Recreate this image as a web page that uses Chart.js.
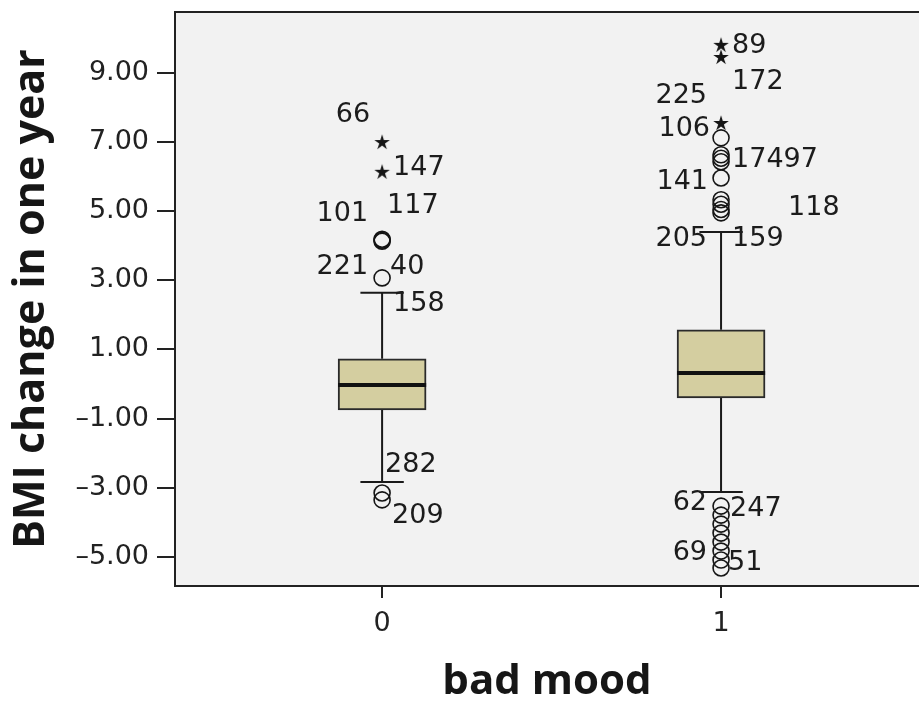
<!DOCTYPE html>
<html>
<head>
<meta charset="UTF-8">
<title>BMI change in one year by bad mood</title>
<script src="https://cdn.jsdelivr.net/npm/chart.js"></script>
<style>
  * {padding: 0; margin: 0;}
  body {background: #fff;}
  #wrap {width: 919px; height: 703px;}
</style>
</head>
<body>
<div id="wrap"><canvas id="myChart"></canvas></div>
<script>
// x categories and axis ticks
const groups = [0, 1];
const xTicks = [0, 1];
const yTicks = [-5, -3, -1, 1, 3, 5, 7, 9];

// box summaries per group
const q1 = [-0.75, -0.40];
const medians = [-0.03, 0.32];
const q3 = [0.73, 1.57];
const whiskerLow = [-2.83, -3.12];
const whiskerHigh = [2.64, 4.40];

// outliers (circles) and extremes (stars)
const outliers0 = [4.19, 4.16, 4.13, 3.07, -3.15, -3.35];
const outliers1 = [7.12, 6.63, 6.53, 6.43, 5.96, 5.33, 5.20, 5.05, 4.95,
  -3.53, -3.79, -4.05, -4.31, -4.57, -4.83, -5.09, -5.32];
const extremes0 = [7.0, 6.14];
const extremes1 = [9.81, 9.46, 7.55];

// case numbers written next to points
const labelText = ['66', '147', '101', '117', '221', '40', '158', '282', '209',
  '89', '172', '225', '106', '17497', '141', '118', '205', '159', '62', '247', '69', '51'];
const labelGroup = [0, 0, 0, 0, 0, 0, 0, 0, 0,
  1, 1, 1, 1, 1, 1, 1, 1, 1, 1, 1, 1, 1];
const labelValue = [7.0, 6.14, 4.16, 4.16, 3.07, 3.07, 2.64, -2.83, -3.35,
  9.81, 9.46, 7.55, 7.55, 6.43, 5.96, 5.20, 4.40, 4.40, -3.12, -3.53, -5.32, -5.32];
// pixel offsets of the labels from their point [dx, dy, align]
const labelOffsets = [[-12, -27, 'right'], [11, -4, 'left'], [-14, -26, 'right'], [5, -34, 'left'],
  [-14, -11, 'right'], [8, -11, 'left'], [11, 11, 'left'], [3, -17, 'left'], [10, 16, 'left'],
  [11, 1, 'left'], [11, 25, 'left'], [-14, -27, 'right'], [-11, 6, 'right'], [11, -2, 'left'],
  [-13, 4, 'right'], [67, 4, 'left'], [-14, 7, 'right'], [11, 7, 'left'], [-14, 11, 'right'],
  [9, 3, 'left'], [-14, -15, 'right'], [7, -5, 'left']];

const boxHalf = 0.13;
const capHalf = 0.064;

// line pieces separated by gaps
function segs(list) {
  const out = [];
  list.forEach(function(p) {
    out.push({x: p[0], y: p[1]}, {x: p[2], y: p[3]}, {x: p[2], y: null});
  });
  return out;
}

const whiskerPieces = [];
const medianPieces = [];
groups.forEach(function(g, i) {
  whiskerPieces.push([g, q3[i], g, whiskerHigh[i]]);
  whiskerPieces.push([g - capHalf, whiskerHigh[i], g + capHalf, whiskerHigh[i]]);
  whiskerPieces.push([g, q1[i], g, whiskerLow[i]]);
  whiskerPieces.push([g - capHalf, whiskerLow[i], g + capHalf, whiskerLow[i]]);
  medianPieces.push([g - boxHalf, medians[i], g + boxHalf, medians[i]]);
});

// small five-point star for extremes
const star = document.createElement('canvas');
star.width = 18; star.height = 18;
const sc = star.getContext('2d');
sc.fillStyle = '#151515';
sc.beginPath();
for (let i = 0; i < 10; i++) {
  const r = i % 2 ? 3 : 8.2;
  const a = -Math.PI / 2 + i * Math.PI / 5;
  sc.lineTo(9 + r * Math.cos(a), 9.5 + r * Math.sin(a));
}
sc.closePath();
sc.fill();

const circlePts = outliers0.map(v => ({x: 0, y: v})).concat(outliers1.map(v => ({x: 1, y: v})));
const starPts = extremes0.map(v => ({x: 0, y: v})).concat(extremes1.map(v => ({x: 1, y: v})));

// plot background + top frame line
const frame = {
  id: 'frame',
  beforeDraw(chart) {
    const a = chart.chartArea, c = chart.ctx;
    c.save();
    c.fillStyle = '#f2f2f2';
    c.fillRect(a.left, a.top, a.right - a.left, a.bottom - a.top);
    c.strokeStyle = '#222';
    c.lineWidth = 2;
    c.beginPath();
    c.moveTo(a.left, a.top);
    c.lineTo(a.right, a.top);
    c.stroke();
    c.restore();
  }
};

// case number labels
const caseLabels = {
  id: 'caseLabels',
  afterDatasetsDraw(chart) {
    const c = chart.ctx, xs = chart.scales.x, ys = chart.scales.y;
    c.save();
    c.font = '27px "DejaVu Sans"';
    c.fillStyle = '#1c1c1c';
    c.textBaseline = 'middle';
    labelText.forEach(function(t, i) {
      const o = labelOffsets[i];
      c.textAlign = o[2];
      c.fillText(t, xs.getPixelForValue(groups[labelGroup[i]]) + o[0], ys.getPixelForValue(labelValue[i]) + o[1]);
    });
    c.restore();
  }
};

const ctx = document.getElementById('myChart');
new Chart(ctx, {
  type: 'scatter',
  data: {
    datasets: [
      {
        type: 'scatter', data: starPts, order: 0,
        pointStyle: star, pointRadius: 9
      },
      {
        type: 'scatter', data: circlePts, order: 0,
        pointStyle: 'circle', pointRadius: 8, borderWidth: 1.6,
        borderColor: '#151515', backgroundColor: 'rgba(0,0,0,0)'
      },
      {
        type: 'line', data: segs(medianPieces), order: 1,
        borderColor: '#111', borderWidth: 4, pointRadius: 0, spanGaps: false, fill: false
      },
      {
        type: 'line', data: segs(whiskerPieces), order: 2,
        borderColor: '#1a1a1a', borderWidth: 2, pointRadius: 0, spanGaps: false, fill: false
      },
      {
        type: 'bar', order: 3,
        data: groups.map((g, i) => ({x: g, y: [q1[i], q3[i]]})),
        backgroundColor: '#d4cea0', borderColor: '#2a2a2a', borderWidth: 2,
        borderSkipped: false, barThickness: 88
      }
    ]
  },
  options: {
    responsive: true,
    maintainAspectRatio: false,
    animation: false,
    layout: {autoPadding: false, padding: {top: 12, right: 0, left: 0, bottom: 0}},
    plugins: {legend: {display: false}, tooltip: {enabled: false}},
    scales: {
      x: {
        type: 'linear', min: -0.611, max: 1.584, offset: false,
        afterFit(s) { s.height = 117; s.paddingLeft = 0; s.paddingRight = 0; },
        afterBuildTicks(s) { s.ticks = xTicks.map(v => ({value: v})); },
        grid: {offset: false, drawOnChartArea: false, drawTicks: true, tickLength: 12, color: '#222', lineWidth: 2},
        border: {display: true, color: '#222', width: 2},
        ticks: {font: {family: 'DejaVu Sans', size: 27}, color: '#222', padding: 10,
          callback: v => String(v)},
        title: {display: true, text: 'bad mood', color: '#161616',
          font: {family: 'Open Sans', weight: 'bold', size: 42}, padding: {top: 0, bottom: -4}}
      },
      y: {
        type: 'linear', min: -5.84, max: 10.76,
        afterFit(s) { s.width = 175; s.paddingTop = 0; s.paddingBottom = 0; },
        afterBuildTicks(s) { s.ticks = yTicks.map(v => ({value: v})); },
        grid: {drawOnChartArea: false, drawTicks: true, tickLength: 18, color: '#222', lineWidth: 2},
        border: {display: true, color: '#222', width: 2},
        ticks: {font: {family: 'DejaVu Sans', size: 27}, color: '#222', padding: 8,
          callback: v => v.toFixed(2).replace('-', '\u2013')},
        title: {display: true, text: 'BMI change in one year', color: '#161616',
          font: {family: 'Open Sans', weight: 'bold', size: 43}, padding: {top: 6, bottom: 0}}
      }
    }
  },
  plugins: [frame, caseLabels]
});
</script>
</body>
</html>
